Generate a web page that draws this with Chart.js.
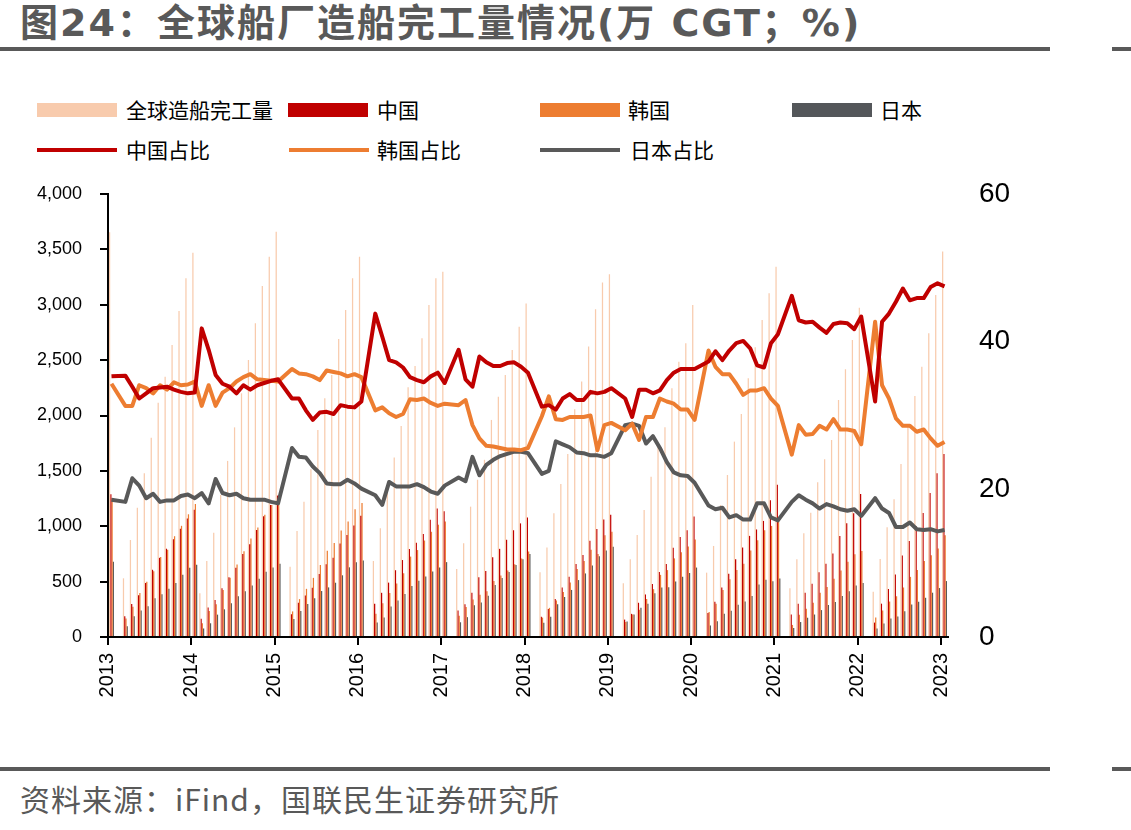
<!DOCTYPE html>
<html>
<head>
<meta charset="utf-8">
<script src="https://cdn.jsdelivr.net/npm/chart.js@4.4.1/dist/chart.umd.min.js"></script>
<style>
  body { margin: 0; width: 1131px; height: 830px; background: #fff; position: relative; overflow: hidden;
         font-family: "Noto Sans CJK SC", "Noto Sans", sans-serif; }
  #title { position: absolute; left: 20px; top: 4px; font-size: 38px; line-height: 1; font-weight: bold; color: #595959;
           white-space: nowrap; letter-spacing: 2px; font-family: "DejaVu Sans", "Noto Sans CJK SC", sans-serif; }
  .rule { position: absolute; height: 4px; background: #595959; }
  .lg { position: absolute; font-size: 21px; line-height: 1; color: #000; white-space: nowrap; }
  .box { position: absolute; width: 80px; height: 14px; }
  .ln { position: absolute; width: 80px; height: 4px; }
  #wrap { position: absolute; left: 0; top: 180px; width: 1131px; height: 540px; }
  #source { position: absolute; left: 20px; top: 783px; font-size: 30px; line-height: 1; color: #595959;
            white-space: nowrap; letter-spacing: 1px; }
</style>
</head>
<body>
<div id="title">图24：全球船厂造船完工量情况(万 CGT；%)</div>
<div class="rule" style="left:0;top:47px;width:1050px"></div>
<div class="rule" style="left:1112px;top:47px;width:19px"></div>

<div class="box" style="left:37px;top:103px;background:#F8CBAD"></div><div class="lg" style="left:126px;top:99px">全球造船完工量</div>
<div class="box" style="left:288px;top:103px;background:#C00000"></div><div class="lg" style="left:377px;top:99px">中国</div>
<div class="box" style="left:540px;top:103px;background:#ED7D31"></div><div class="lg" style="left:628px;top:99px">韩国</div>
<div class="box" style="left:792px;top:103px;background:#54575A"></div><div class="lg" style="left:880px;top:99px">日本</div>
<div class="ln" style="left:37px;top:148px;background:#C00000"></div><div class="lg" style="left:126px;top:139px">中国占比</div>
<div class="ln" style="left:289px;top:148px;background:#ED7D31"></div><div class="lg" style="left:377px;top:139px">韩国占比</div>
<div class="ln" style="left:540px;top:148px;background:#595959"></div><div class="lg" style="left:630px;top:139px">日本占比</div>

<div id="wrap"><canvas id="c"></canvas></div>

<div class="rule" style="left:0;top:767px;width:1050px"></div>
<div class="rule" style="left:1112px;top:767px;width:19px"></div>
<div id="source">资料来源：iFind，国联民生证券研究所</div>

<script>
// year tick labels (one every 12 months)
const yearLabels = ['2013','2014','2015','2016','2017','2018','2019','2020','2021','2022','2023'];

// monthly categories, 2013-01 .. 2023-01
const categories = [];
yearLabels.forEach(y => {
  for (let m = 1; m <= 12; m++) {
    if (y === '2023' && m > 1) break;
    categories.push(y + '-' + String(m).padStart(2, '0'));
  }
});

// cumulative completions, 万 CGT (null = no data for that month)
const globalTotal = [3655, null, 530, 876, 1168, 1478, 1800, 2116, 2350, 2637, 2944, 3239, 3470,
  395, 686, 942, 1282, 1590, 1893, 2200, 2501, 2833, 3170, 3434, 3660,
  null, 635, 957, 1222, 1514, 1869, 2155, 2366, 2691, 2953, 3239, 3434,
  null, 686, 981, 1310, 1620, 1905, 2255, 2447, 2697, 2998, 3239, 3299,
  null, 614, 846, 1177, 1420, 1600, 1960, 2170, 2366, 2592, 2802, 3012,
  null, 584, 807, 1117, 1382, 1653, 2056, 2306, 2622, 2959, 3200, 3276,
  null, 485, 702, 921, 1147, 1448, 1749, 1893, 2246, 2486, 2652, 2998,
  null, 581, 822, 1192, 1463, 1764, 2014, 2336, 2616, 2863, 3104, 3344,
  null, 440, 702, 936, 1123, 1397, 1605, 1779, 2140, 2417, 2682, 2974,
  null, 409, 704, 990, 1243, 1562, 1899, 2176, 2441, 2742, 3088, 3480];

const chinaTotal = [1290, null, 188, 297, 377, 488, 607, 715, 797, 883, 977, 1069, 1149,
  165, 267, 334, 440, 539, 625, 750, 838, 966, 1090, 1192, 1277,
  null, 205, 309, 375, 445, 568, 657, 715, 845, 921, 1007, 1095,
  null, 300, 399, 491, 603, 695, 794, 852, 930, 1058, 1160, 1135,
  null, 239, 295, 399, 540, 595, 719, 796, 878, 964, 1026, 1078,
  null, 182, 253, 344, 446, 544, 660, 740, 870, 976, 1062, 1104,
  null, 157, 209, 309, 384, 478, 586, 659, 806, 902, 965, 1088,
  null, 217, 318, 447, 571, 702, 808, 913, 971, 1048, 1235, 1374,
  null, 203, 300, 399, 480, 585, 661, 754, 912, 1027, 1118, 1291,
  null, 130, 301, 434, 564, 737, 866, 999, 1120, 1300, 1479, 1653];

const koreaTotal = [1254, null, 166, 274, 398, 498, 594, 722, 787, 910, 1004, 1108, 1201,
  124, 234, 295, 424, 536, 655, 774, 890, 989, 1103, 1192, 1266,
  null, 231, 342, 435, 534, 650, 778, 849, 961, 1042, 1153, 1209,
  null, 211, 305, 397, 483, 575, 726, 785, 871, 950, 1014, 1042,
  null, 193, 272, 338, 382, 414, 506, 556, 601, 658, 709, 771,
  null, 175, 263, 330, 406, 493, 613, 687, 787, 749, 918, 950,
  null, 136, 203, 246, 342, 432, 561, 604, 710, 766, 817, 881,
  null, 225, 301, 424, 521, 605, 661, 780, 874, 965, 1003, 1047,
  null, 109, 201, 256, 309, 400, 451, 525, 601, 679, 748, 776,
  null, 175, 240, 320, 368, 447, 543, 605, 686, 738, 800, 919];

const japanTotal = [680, null, 97, 188, 239, 278, 349, 387, 435, 488, 562, 625, 652,
  77, 124, 202, 250, 305, 367, 414, 465, 527, 590, 628, 662,
  null, 163, 234, 297, 350, 415, 448, 490, 557, 629, 674, 690,
  null, 132, 176, 275, 330, 389, 460, 507, 547, 591, 628, 676,
  null, 133, 179, 287, 311, 373, 470, 532, 587, 651, 703, 750,
  null, 129, 182, 296, 361, 425, 514, 574, 645, 728, 781, 816,
  null, 139, 203, 263, 301, 394, 448, 449, 501, 544, 578, 627,
  null, 103, 142, 209, 237, 291, 320, 371, 473, 518, 503, 528,
  null, 81, 135, 174, 203, 243, 289, 315, 370, 413, 464, 488,
  null, 77, 122, 166, 185, 233, 294, 318, 354, 400, 442, 505];

// shares, %
const chinaShare = [35.3, null, 35.4, 33.9, 32.3, 33.0, 33.7, 33.8, 33.9, 33.5, 33.2, 33.0, 33.1,
  41.8, 38.9, 35.5, 34.3, 33.9, 33.0, 34.1, 33.5, 34.1, 34.4, 34.7, 34.9,
  null, 32.3, 32.3, 30.7, 29.4, 30.4, 30.5, 30.2, 31.4, 31.2, 31.1, 31.9,
  null, 43.8, 40.7, 37.5, 37.2, 36.5, 35.2, 34.8, 34.5, 35.3, 35.8, 34.4,
  null, 38.9, 34.9, 33.9, 38.0, 37.2, 36.7, 36.7, 37.1, 37.2, 36.6, 35.8,
  null, 31.2, 31.4, 30.8, 32.3, 32.9, 32.1, 32.1, 33.2, 33.0, 33.2, 33.7,
  null, 32.3, 29.8, 33.5, 33.5, 33.0, 33.4, 34.8, 35.8, 36.3, 36.3, 36.3,
  null, 37.3, 38.7, 37.5, 38.8, 39.8, 40.1, 39.1, 36.8, 36.5, 39.8, 41.0,
  null, 46.2, 42.9, 42.6, 42.7, 41.9, 41.2, 42.4, 42.6, 42.5, 41.7, 43.4,
  null, 31.9, 42.7, 43.8, 45.4, 47.2, 45.6, 45.9, 45.9, 47.4, 47.9, 47.5];

const koreaShare = [34.3, null, 31.3, 31.3, 34.1, 33.7, 33.0, 34.1, 33.5, 34.5, 34.1, 34.2, 34.6,
  31.3, 34.1, 31.3, 33.1, 33.7, 34.6, 35.2, 35.6, 34.9, 34.8, 34.7, 34.6,
  null, 36.3, 35.7, 35.6, 35.3, 34.8, 36.1, 35.9, 35.7, 35.3, 35.6, 35.2,
  null, 30.7, 31.1, 30.3, 29.8, 30.2, 32.2, 32.1, 32.3, 31.7, 31.3, 31.6,
  null, 31.4, 32.1, 28.7, 26.9, 25.9, 25.8, 25.6, 25.4, 25.4, 25.3, 25.6,
  null, 29.9, 32.6, 29.5, 29.4, 29.8, 29.8, 29.8, 30.0, 25.3, 28.7, 29.0,
  null, 28.0, 28.9, 26.7, 29.8, 29.8, 32.3, 31.9, 31.6, 30.8, 30.8, 29.4,
  null, 38.8, 36.6, 35.6, 35.6, 34.3, 32.8, 33.4, 33.4, 33.7, 32.3, 31.3,
  null, 24.7, 28.7, 27.4, 27.5, 28.6, 28.1, 29.5, 28.1, 28.1, 27.9, 26.1,
  null, 42.7, 34.1, 32.3, 29.6, 28.6, 28.6, 27.8, 28.1, 26.9, 25.9, 26.4];

const japanShare = [18.6, null, 18.3, 21.5, 20.5, 18.8, 19.4, 18.3, 18.5, 18.5, 19.1, 19.3, 18.8,
  19.5, 18.1, 21.4, 19.5, 19.2, 19.4, 18.8, 18.6, 18.6, 18.6, 18.3, 18.1,
  null, 25.6, 24.4, 24.3, 23.1, 22.2, 20.8, 20.7, 20.7, 21.3, 20.8, 20.1,
  null, 19.2, 17.9, 21.0, 20.4, 20.4, 20.4, 20.7, 20.3, 19.7, 19.4, 20.5,
  null, 21.6, 21.1, 24.4, 21.9, 23.3, 24.0, 24.5, 24.8, 25.1, 25.1, 24.9,
  null, 22.1, 22.5, 26.5, 26.1, 25.7, 25.0, 24.9, 24.6, 24.6, 24.4, 24.9,
  null, 28.7, 28.9, 28.6, 26.2, 27.2, 25.6, 23.7, 22.3, 21.9, 21.8, 20.9,
  null, 17.8, 17.3, 17.5, 16.2, 16.5, 15.9, 15.9, 18.1, 18.1, 16.2, 15.8,
  null, 18.3, 19.2, 18.6, 18.1, 17.4, 18.0, 17.7, 17.3, 17.1, 17.3, 16.4,
  null, 18.8, 17.4, 16.8, 14.9, 14.9, 15.5, 14.6, 14.5, 14.6, 14.3, 14.5];

function shareLine(label, data, color) {
  return { type: 'line', label: label, data: data, yAxisID: 'y1', borderColor: color, backgroundColor: color,
           borderWidth: 4, pointRadius: 0, tension: 0, spanGaps: true, borderJoinStyle: 'round', order: 0 };
}
function volBar(label, data, color) {
  return { type: 'bar', label: label, data: data, yAxisID: 'y', backgroundColor: color, order: 1,
           categoryPercentage: 0.72, barPercentage: 1.0 };
}

// keep the plot box fixed: drop the label overflow padding chart.js adds to y scales
function fixWidth(w) {
  return s => { s.width = w; s.paddingTop = 0; s.paddingBottom = 0; };
}

new Chart(document.getElementById('c'), {
  data: {
    labels: categories,
    datasets: [
      shareLine('中国占比', chinaShare, '#C00000'),
      shareLine('韩国占比', koreaShare, '#ED7D31'),
      shareLine('日本占比', japanShare, '#595959'),
      volBar('全球造船完工量', globalTotal, '#F8CBAD'),
      volBar('中国', chinaTotal, '#C00000'),
      volBar('韩国', koreaTotal, '#ED7D31'),
      volBar('日本', japanTotal, '#595959')
    ]
  },
  options: {
    responsive: true,
    maintainAspectRatio: false,
    animation: false,
    layout: { padding: { top: 14, left: 0, right: 0, bottom: 0 } },
    plugins: { legend: { display: false }, tooltip: { enabled: false } },
    scales: {
      x: {
        grid: { display: true, drawOnChartArea: false, drawTicks: true, tickLength: 8, offset: true, lineWidth: 2,
                color: c => (c.index % 12 === 0 ? '#000' : 'rgba(0,0,0,0)') },
        border: { display: true, color: '#000', width: 2 },
        ticks: { autoSkip: false, maxRotation: 90, minRotation: 90, padding: 8, labelOffset: -3.5,
                 color: '#000', font: { family: 'Liberation Sans', size: 20 },
                 callback: (v, i) => (i % 12 === 0 ? yearLabels[i / 12] : '') },
        afterFit: s => { s.height = 83; }
      },
      y: {
        position: 'left', min: 0, max: 4000,
        grid: { drawOnChartArea: false, drawTicks: true, tickLength: 8, color: '#000', lineWidth: 2 },
        border: { display: true, color: '#000', width: 2 },
        ticks: { stepSize: 500, padding: 18, color: '#000', font: { family: 'Liberation Sans', size: 18 },
                 callback: v => v.toLocaleString('en-US') },
        afterFit: fixWidth(108)
      },
      y1: {
        position: 'right', min: 0, max: 60,
        grid: { display: false, drawTicks: false },
        border: { display: false },
        ticks: { stepSize: 20, padding: 31, color: '#000', font: { family: 'Liberation Sans', size: 28 } },
        afterFit: fixWidth(183)
      }
    }
  }
});
</script>
</body>
</html>
